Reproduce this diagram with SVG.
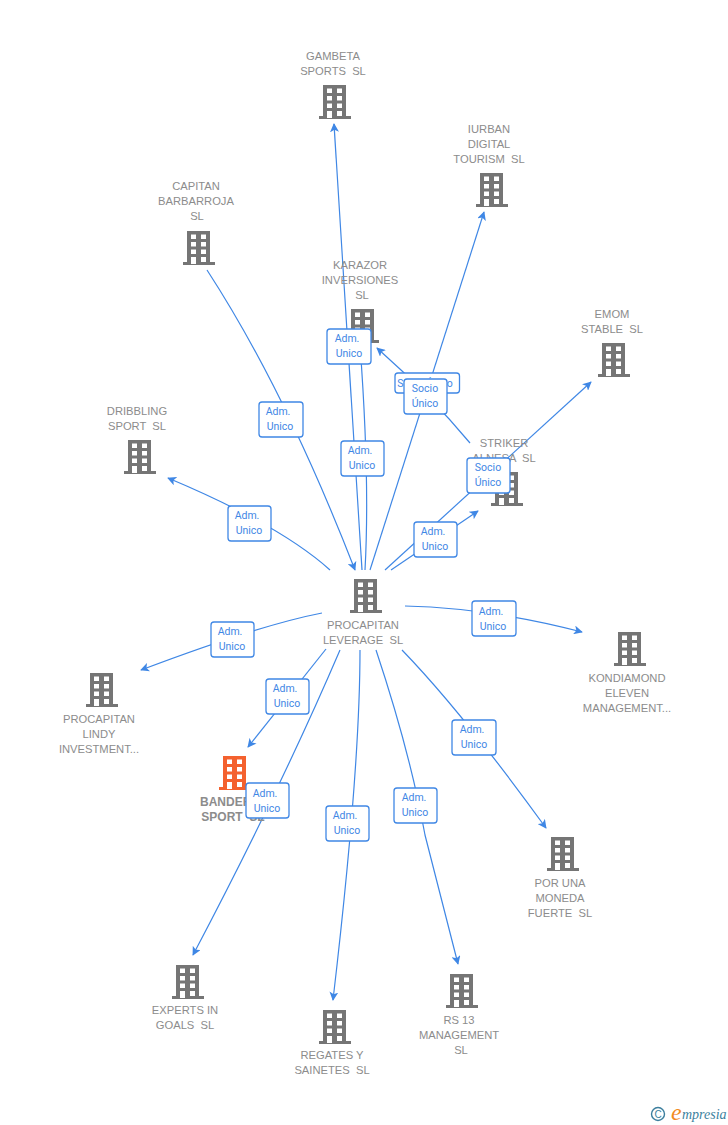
<svg xmlns="http://www.w3.org/2000/svg" width="728" height="1125" viewBox="0 0 728 1125">
<style>
.n{font:11.2px "Liberation Sans",Arial,sans-serif;fill:#8c8c8c;text-anchor:middle;white-space:pre}
.c{fill:none;stroke:#3f87e5;stroke-width:1.2}
.lb rect{fill:#fff;stroke:#3f87e5;stroke-width:1.3}
.lb text{font:10.5px Roboto,"Liberation Sans",sans-serif;fill:#3f87e5;text-anchor:middle}
</style>
<defs>
<marker id="a" viewBox="0 0 10 10" refX="9" refY="5" markerWidth="9" markerHeight="9" orient="auto" markerUnits="userSpaceOnUse"><path d="M0 0L10 5L0 10L2.5 5Z" fill="#3f87e5"/></marker>
<symbol id="b" viewBox="0 0 32 34" width="32" height="34" overflow="visible">
<path fill-rule="evenodd" d="M4 0H27V31H32V34H0V31H4ZM8 3.500V8H13V3.500ZM18 3.500V8H23V3.500ZM8 11V15.500H13V11ZM18 11V15.500H23V11ZM8 18.500V23H13V18.500ZM18 18.500V23H23V18.500ZM8 26V33H13V26ZM18 26V31H23V26Z"/>
</symbol>
</defs>
<g id="connectors">
<path class="c" marker-end="url(#a)" d="M362 570L334 124"/>
<path class="c" marker-end="url(#a)" d="M370 570L484 212"/>
<path class="c" marker-end="url(#a)" d="M207 270Q285 390 355 570"/>
<path class="c" marker-end="url(#a)" d="M365 570Q370 480 360 345"/>
<path class="c" marker-end="url(#a)" d="M470 443Q430 395 377 348"/>
<path class="c" marker-end="url(#a)" d="M385 570L591 382"/>
<path class="c" marker-end="url(#a)" d="M391 570L478 511"/>
<path class="c" marker-end="url(#a)" d="M330 570Q280 525 168 478"/>
<path class="c" marker-end="url(#a)" d="M405 606Q490 608 582 632"/>
<path class="c" marker-end="url(#a)" d="M322 613Q260 625 141 670"/>
<path class="c" marker-end="url(#a)" d="M326 649L248 747"/>
<path class="c" marker-end="url(#a)" d="M340 650Q280 790 193 955"/>
<path class="c" marker-end="url(#a)" d="M360 650Q360 770 333 1000"/>
<path class="c" marker-end="url(#a)" d="M376 650C396 710 415 780 425 835L458 964"/>
<path class="c" marker-end="url(#a)" d="M402 650Q462 712 546 828"/>
</g>
<g id="n-gambeta" fill="#757575"><use href="#b" x="319" y="85"/><text class="n" x="333" y="60">GAMBETA</text><text class="n" x="333" y="75">SPORTS  SL</text></g>
<g id="n-iurban" fill="#757575"><use href="#b" x="476" y="173"/><text class="n" x="489" y="133">IURBAN</text><text class="n" x="489" y="148">DIGITAL</text><text class="n" x="489" y="163">TOURISM  SL</text></g>
<g id="n-capitan" fill="#757575"><use href="#b" x="183" y="231"/><text class="n" x="196" y="190">CAPITAN</text><text class="n" x="196" y="205">BARBARROJA</text><text class="n" x="197" y="220">SL</text></g>
<g id="n-karazor" fill="#757575"><use href="#b" x="347" y="309"/><text class="n" x="360" y="269">KARAZOR</text><text class="n" x="360" y="284">INVERSIONES</text><text class="n" x="362" y="299">SL</text></g>
<g id="n-emom" fill="#757575"><use href="#b" x="598" y="343"/><text class="n" x="612" y="318">EMOM</text><text class="n" x="612" y="333">STABLE  SL</text></g>
<g id="n-dribbling" fill="#757575"><use href="#b" x="124" y="440"/><text class="n" x="137" y="415">DRIBBLING</text><text class="n" x="137" y="430">SPORT  SL</text></g>
<g id="n-striker" fill="#757575"><use href="#b" x="491" y="472"/><text class="n" x="504" y="447">STRIKER</text><text class="n" x="504" y="462">ALNESA  SL</text></g>
<g id="n-leverage" fill="#757575"><use href="#b" x="350" y="579"/><text class="n" x="363" y="629">PROCAPITAN</text><text class="n" x="363" y="644">LEVERAGE  SL</text></g>
<g id="n-kondiamond" fill="#757575"><use href="#b" x="614" y="632"/><text class="n" x="627" y="682">KONDIAMOND</text><text class="n" x="627" y="697">ELEVEN</text><text class="n" x="627" y="712">MANAGEMENT...</text></g>
<g id="n-lindy" fill="#757575"><use href="#b" x="86" y="673"/><text class="n" x="99" y="723">PROCAPITAN</text><text class="n" x="99" y="738">LINDY</text><text class="n" x="99" y="753">INVESTMENT...</text></g>
<g id="n-bande" fill="#f4612e"><use href="#b" x="219" y="756"/><text class="n" x="230" y="806" style="font-size:12px;font-weight:bold">BANDERA</text><text class="n" x="233" y="821" style="font-size:12px;font-weight:bold">SPORT  SL</text></g>
<g id="n-poruna" fill="#757575"><use href="#b" x="547" y="837"/><text class="n" x="560" y="887">POR UNA</text><text class="n" x="560" y="902">MONEDA</text><text class="n" x="560" y="917">FUERTE  SL</text></g>
<g id="n-experts" fill="#757575"><use href="#b" x="172" y="965"/><text class="n" x="185" y="1014">EXPERTS IN</text><text class="n" x="185" y="1029">GOALS  SL</text></g>
<g id="n-regates" fill="#757575"><use href="#b" x="319" y="1010"/><text class="n" x="332" y="1059">REGATES Y</text><text class="n" x="332" y="1074">SAINETES  SL</text></g>
<g id="n-rs13" fill="#757575"><use href="#b" x="446" y="974"/><text class="n" x="459" y="1024">RS 13</text><text class="n" x="459" y="1039">MANAGEMENT</text><text class="n" x="461" y="1054">SL</text></g>
<g id="labels">
<g class="lb"><rect x="395" y="373" width="64.500" height="20" rx="3"/><text x="425" y="387">Socio Único</text></g>
<g class="lb"><rect x="327" y="329" width="44" height="35" rx="3"/><text x="347" y="342">Adm.</text><text x="349" y="357">Unico</text></g>
<g class="lb"><rect x="259" y="402" width="44" height="35" rx="3"/><text x="278" y="415">Adm.</text><text x="280" y="430">Unico</text></g>
<g class="lb"><rect x="341" y="441" width="43" height="35" rx="3"/><text x="360" y="454">Adm.</text><text x="362" y="469">Unico</text></g>
<g class="lb"><rect x="404" y="379" width="43" height="35" rx="3"/><text x="425" y="392">Socio</text><text x="425" y="407">Único</text></g>
<g class="lb"><rect x="467" y="458" width="43" height="35" rx="3"/><text x="488" y="471">Socio</text><text x="488" y="486">Único</text></g>
<g class="lb"><rect x="414" y="522" width="43" height="35" rx="3"/><text x="433" y="535">Adm.</text><text x="435" y="550">Unico</text></g>
<g class="lb"><rect x="228" y="506" width="43" height="35" rx="3"/><text x="247" y="519">Adm.</text><text x="249" y="534">Unico</text></g>
<g class="lb"><rect x="211" y="622" width="43" height="35" rx="3"/><text x="230" y="635">Adm.</text><text x="232" y="650">Unico</text></g>
<g class="lb"><rect x="472" y="601" width="44" height="35" rx="3"/><text x="491" y="615">Adm.</text><text x="493" y="630">Unico</text></g>
<g class="lb"><rect x="266" y="679" width="43" height="35" rx="3"/><text x="285" y="692">Adm.</text><text x="287" y="707">Unico</text></g>
<g class="lb"><rect x="246" y="783" width="43" height="35" rx="3"/><text x="265" y="797">Adm.</text><text x="267" y="812">Unico</text></g>
<g class="lb"><rect x="326" y="806" width="43" height="35" rx="3"/><text x="345" y="819">Adm.</text><text x="347" y="834">Unico</text></g>
<g class="lb"><rect x="394" y="788" width="43" height="35" rx="3"/><text x="414" y="801">Adm.</text><text x="415" y="816">Unico</text></g>
<g class="lb"><rect x="452" y="720" width="44" height="35" rx="3"/><text x="472" y="733">Adm.</text><text x="474" y="748">Unico</text></g>
</g>
<g id="logo">
<circle cx="658" cy="1114" r="6.500" fill="none" stroke="#3d7f9e" stroke-width="1.400"/>
<text x="658" y="1117.500" font-family="Liberation Sans,sans-serif" font-size="10" fill="#3d7f9e" text-anchor="middle">C</text>
<text x="671" y="1120" font-family="Liberation Serif,serif" font-style="italic" font-size="24" fill="#f28c1e">e</text>
<text x="682" y="1119" font-family="Liberation Serif,serif" font-style="italic" font-size="14" fill="#3d7f9e">mpresia</text>
</g>
</svg>
